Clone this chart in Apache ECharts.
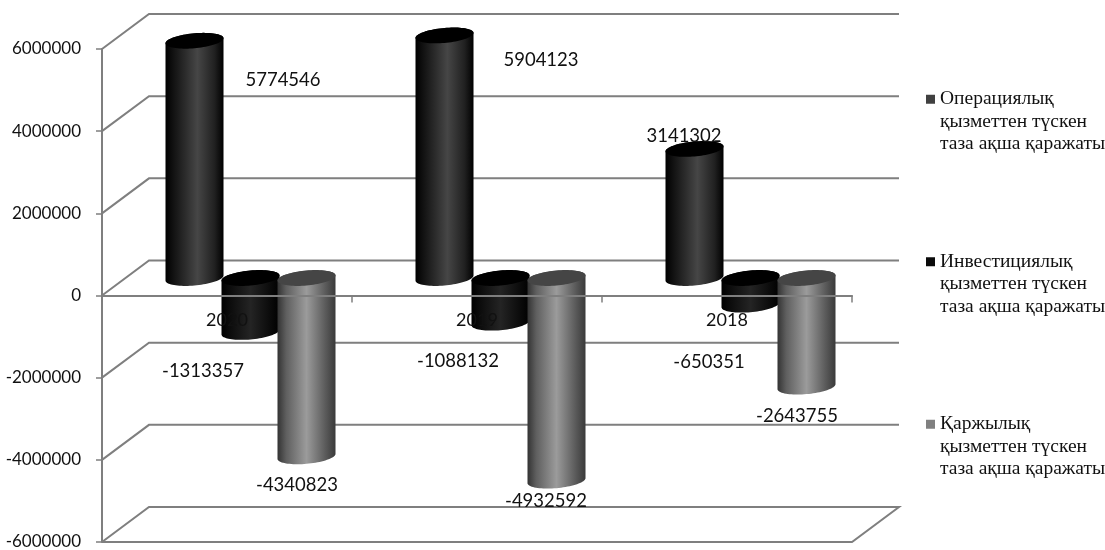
<!DOCTYPE html>
<html>
<head>
<meta charset="utf-8">
<style>html,body{margin:0;padding:0;background:#fff}#c{width:1105px;height:550px}</style>
<script src="https://cdn.jsdelivr.net/npm/echarts@6/dist/echarts.min.js"></script>
</head>
<body>
<div id="c"></div>
<script>
const categories = ['2020', '2019', '2018'];
const yTicks = [-6000000, -4000000, -2000000, 0, 2000000, 4000000, 6000000];
const operating = [5774546, 5904123, 3141302];
const investing = [-1313357, -1088132, -650351];
const financing = [-4340823, -4932592, -2643755];
const seriesNames = [
  'Операциялық қызметтен түскен таза ақша қаражаты',
  'Инвестициялық қызметтен түскен таза ақша қаражаты',
  'Қаржылық қызметтен түскен таза ақша қаражаты'
];

// layout of the pseudo-3D drawing
const depthX = 47, depthY = 35, rx = 29, ry = 7.5, shear = 2.5;
const slotOffset = [-56, 0, 56];
const labelOffset = [
  [[88.5, 39.5], [96.5, 24.7], [-10.5, -12.6]],
  [[-47.5, 38.6], [-42.5, 38.8], [-41.5, 57.8]],
  [[-9.5, 28.4], [-10.5, 20], [-9.5, 29]]
];
const looks = [
  { legend: '#404040', top: '#000000', stops: [[0, '#000'], [0.1, '#0d0d0d'], [0.55, '#464646'], [0.85, '#202020'], [1, '#000']] },
  { legend: '#0a0a0a', top: '#000000', stops: [[0, '#000'], [0.15, '#0c0c0c'], [0.5, '#242424'], [0.85, '#0a0a0a'], [1, '#000']] },
  { legend: '#808080', top: '#454545', stops: [[0, '#333'], [0.15, '#5f5f5f'], [0.5, '#9b9b9b'], [0.82, '#5c5c5c'], [1, '#3a3a3a']] }
];
const numFont = '18.5px Lato, sans-serif';

function rimPoint(cx, cy, t) {
  return [cx + rx * Math.cos(t), cy + ry * Math.sin(t) - shear * Math.cos(t)];
}
function cylinderItem(s) {
  return function (params, api) {
    const idx = api.value(0), val = api.value(1);
    const end = api.coord([idx, val]), zero = api.coord([idx, 0]);
    const cx = zero[0] + slotOffset[s] + depthX / 2;
    const baseY = zero[1] - depthY / 2, endY = end[1] - depthY / 2;
    const upperY = Math.min(baseY, endY), lowerY = Math.max(baseY, endY);
    const body = [], cap = [];
    const n = 40;
    for (let i = 0; i <= n; i++) body.push(rimPoint(cx, lowerY, Math.PI * i / n));
    for (let i = 0; i <= n; i++) body.push(rimPoint(cx, upperY, Math.PI + Math.PI * i / n));
    for (let i = 0; i < 2 * n; i++) cap.push(rimPoint(cx, upperY, Math.PI * i / n));
    const off = labelOffset[s][idx];
    return {
      type: 'group',
      children: [
        { type: 'polygon', shape: { points: body }, style: {
          fill: { type: 'linear', x: 0, y: 0, x2: 1, y2: 0,
            colorStops: looks[s].stops.map(a => ({ offset: a[0], color: a[1] })) } } },
        { type: 'polygon', shape: { points: cap }, style: { fill: looks[s].top } },
        { type: 'text', z2: 50, style: { x: cx + off[0], y: endY + off[1], text: String(val),
          align: 'center', verticalAlign: 'middle', font: numFont, fill: '#111' } }
      ]
    };
  };
}
function wallItem(params, api) {
  const v = api.value(1);
  const p = api.coord([0, v]);
  const band = api.size([1, 0])[0];
  const x0 = p[0] - band / 2, x1 = x0 + band * categories.length;
  const lineStyle = { stroke: '#7f7f7f', lineWidth: 2, fill: null };
  const pts = [[x0, p[1]], [x0 + depthX, p[1] - depthY], [x1 + depthX, p[1] - depthY]];
  if (v === yTicks[0]) pts.push([x1, p[1]], [x0, p[1]]);
  return { type: 'polyline', shape: { points: pts }, style: lineStyle, silent: true };
}
function wrapLegend(name) {
  const w = name.split(' ');
  return '\n\n' + w[0] + '\n' + w[1] + ' ' + w[2] + '\n' + w.slice(3).join(' ');
}
const values = [operating, investing, financing];
const chart = echarts.init(document.getElementById('c'), null, { renderer: 'canvas' });
chart.setOption({
  animation: false,
  backgroundColor: '#fff',
  grid: { left: 102, right: 253, top: 49, bottom: 8, outerBoundsMode: 'none' },
  legend: {
    data: seriesNames, orient: 'vertical', left: 926, top: 43, padding: 0,
    icon: 'rect', itemWidth: 9, itemHeight: 9, itemGap: 50, selectedMode: false,
    formatter: wrapLegend,
    textStyle: { fontFamily: '"Liberation Serif", serif', fontSize: 19.5, lineHeight: 22.5, color: '#111' }
  },
  xAxis: {
    type: 'category', data: categories, z: 10, offset: -246.5,
    axisLine: { onZero: false, lineStyle: { color: '#7f7f7f', width: 2 } },
    axisTick: { show: true, length: 7, lineStyle: { color: '#7f7f7f', width: 1.5 } },
    axisLabel: { margin: 16, fontFamily: 'Lato, sans-serif', fontSize: 18, color: '#111' }
  },
  yAxis: {
    type: 'value', min: -6000000, max: 6000000, interval: 2000000,
    axisLine: { show: true, lineStyle: { color: '#7f7f7f', width: 2 } },
    axisTick: { show: true, length: 6, lineStyle: { color: '#7f7f7f', width: 1.5 } },
    splitLine: { show: false },
    axisLabel: { margin: 21, fontFamily: 'Lato, sans-serif', fontSize: 17, color: '#111', formatter: v => String(v) }
  },
  series: [
    { type: 'custom', name: 'walls', z: 1, silent: true, clip: false, renderItem: wallItem,
      data: yTicks.map(v => [0, v]), encode: { x: 0, y: 1 } }
  ].concat(values.map((arr, s) => ({
    type: 'custom', name: seriesNames[s], z: 3 + s, clip: false, silent: true,
    itemStyle: { color: looks[s].legend },
    renderItem: cylinderItem(s),
    data: arr.map((v, i) => [i, v]), encode: { x: 0, y: 1 }
  })))
});
</script>
</body>
</html>
